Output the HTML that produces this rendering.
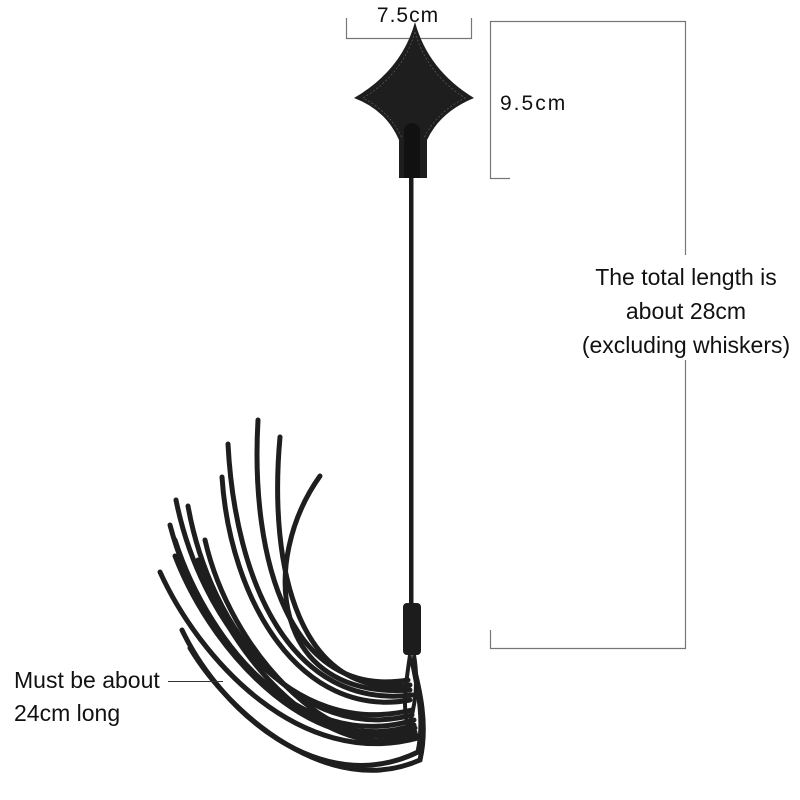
<!DOCTYPE html>
<html><head><style>
html,body{margin:0;padding:0;background:#fff;}
svg{display:block;}
text{font-family:"Liberation Sans","DejaVu Sans",sans-serif;fill:#111;}
</style></head><body>
<svg width="800" height="800" viewBox="0 0 800 800" xmlns="http://www.w3.org/2000/svg">
<rect width="800" height="800" fill="#fff"/>
<path d="M346.5 18 V38.5 H471.5 V18" fill="none" stroke="#777" stroke-width="1.2"/>
<text x="408" y="22" font-size="21" text-anchor="middle" letter-spacing="1">7.5cm</text>
<path d="M510 178.5 H490.5 V21.5 H685.5 V648.5 H490.5 V630" fill="none" stroke="#777" stroke-width="1.2"/>
<rect x="580" y="255" width="215" height="105" fill="#fff"/>
<text x="500" y="110" font-size="21" letter-spacing="2">9.5cm</text>
<text x="686" y="285" font-size="23" text-anchor="middle">The total length is</text>
<text x="686" y="319" font-size="23" text-anchor="middle">about 28cm</text>
<text x="686" y="353" font-size="23" text-anchor="middle">(excluding whiskers)</text>
<!-- shaft -->
<rect x="409" y="175" width="4.5" height="435" fill="#1a1a1a"/>
<!-- diamond -->
<path d="M415 22 Q402 70 354 98 Q386 110 399 140 L399 178 L427 178 L427 140 Q440 112 474 98 Q428 70 415 22 Z" fill="#1e1e1e"/>
<path d="M415 32 Q403 74 363 98 Q390 112 402 138 M415 32 Q427 74 465 98 Q436 113 424 138" fill="none" stroke="#555" stroke-width="0.8" stroke-dasharray="2 2"/>
<path d="M404 178 V128 Q412 118 420 128 V178" fill="#111"/>
<!-- ferrule -->
<rect x="403" y="603" width="18" height="52" rx="4" fill="#1c1c1c"/>
<!-- tassels -->
<g fill="none" stroke="#1e1e1e" stroke-width="5" stroke-linecap="round">
<path d="M258 420 C250 560 290 700 408 680"/>
<path d="M280 437 C268 570 300 700 410 685"/>
<path d="M320 476 C260 560 270 700 410 690"/>
<path d="M228 444 C235 580 290 710 412 695"/>
<path d="M222 477 C230 600 300 720 410 700"/>
<path d="M176 500 C200 620 290 740 412 710"/>
<path d="M188 506 C210 630 300 745 412 715"/>
<path d="M170 525 C200 640 300 755 414 720"/>
<path d="M175 540 C210 650 310 760 414 725"/>
<path d="M175 556 C215 660 320 765 415 728"/>
<path d="M205 540 C230 650 330 760 415 732"/>
<path d="M198 560 C230 660 330 768 416 735"/>
<path d="M160 572 C200 660 300 770 418 738"/>
<path d="M182 630 C220 710 320 800 418 752 C425 720 418 690 412 660"/>
<path d="M190 648 C230 715 330 800 420 760 C428 725 420 690 412 660"/>
</g>
<g fill="none" stroke="#1e1e1e" stroke-width="4">
<path d="M410 655 C405 690 400 720 415 740"/>
<path d="M414 655 C420 690 412 720 405 735"/>
</g>
<line x1="168" y1="681.5" x2="223" y2="681.5" stroke="#333" stroke-width="1"/>
<text x="14" y="688" font-size="23">Must be about</text>
<text x="14" y="721" font-size="23">24cm long</text>
</svg>
</body></html>
